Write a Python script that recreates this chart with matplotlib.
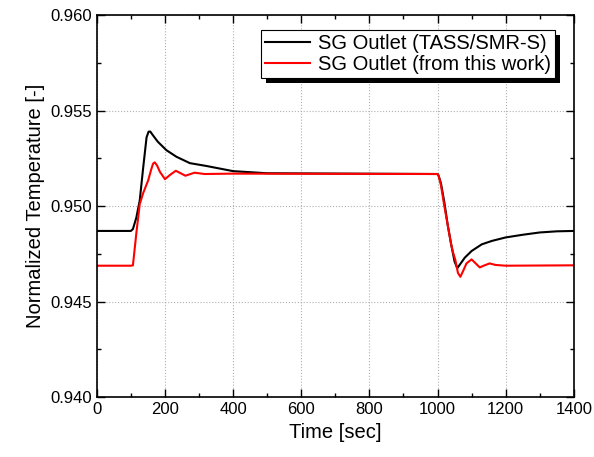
import numpy as np
import matplotlib
matplotlib.use("Agg")
import matplotlib.pyplot as plt
from matplotlib.ticker import MultipleLocator, FormatStrFormatter
from matplotlib.patches import Rectangle

plt.rcParams['font.family'] = ['Liberation Sans', 'DejaVu Sans']

# SG outlet temperature, TASS/SMR-S reference
t_tass = [0, 100, 106, 116, 126, 136, 146, 152, 157, 165, 179, 204, 234, 273, 322, 400, 500,
          1000, 1003, 1010, 1020, 1030, 1040, 1050, 1058, 1066, 1080, 1100, 1130, 1160,
          1200, 1250, 1300, 1350, 1400]
v_tass = [0.9487, 0.9487, 0.9488, 0.9494, 0.9503, 0.9520, 0.9536, 0.9539, 0.9539, 0.9537,
          0.95337, 0.95293, 0.95258, 0.95225, 0.9521, 0.95183, 0.95172,
          0.95168, 0.9516, 0.9512, 0.9502, 0.9490, 0.9480, 0.9471, 0.94675, 0.94695,
          0.9473, 0.94765, 0.9480, 0.94818, 0.94836, 0.9485, 0.94862, 0.94868, 0.9487]

# SG outlet temperature, this work
t_work = [0, 100, 106, 116, 126, 136, 151, 159, 165, 170, 177, 185, 200, 216, 232, 246, 260,
          287, 316, 400, 1000, 1003, 1010, 1020, 1030, 1040, 1045, 1052, 1060, 1067, 1075,
          1085, 1100, 1112, 1124, 1138, 1153, 1170, 1200, 1400]
v_work = [0.94688, 0.94688, 0.9469, 0.94859, 0.95010, 0.95068, 0.95136, 0.95188, 0.95222,
          0.95229, 0.95212, 0.9518, 0.95141, 0.95165, 0.95185, 0.95172, 0.95159,
          0.95175, 0.95168, 0.9517, 0.95168, 0.9516, 0.9511, 0.9500, 0.9490, 0.9480,
          0.94761, 0.9472, 0.9465, 0.9463, 0.9466, 0.9470, 0.94721, 0.9470, 0.94679,
          0.9469, 0.9470, 0.94692, 0.94688, 0.9469]

fig = plt.figure(figsize=(5.94, 4.57), dpi=100)
ax = fig.add_axes([0.163, 0.131, 0.803, 0.836])

ax.plot(t_tass, v_tass, color='black', lw=1.5, label='SG Outlet (TASS/SMR-S)')
ax.plot(t_work, v_work, color='red', lw=1.5, label='SG Outlet (from this work)')

ax.set_xlim(0, 1400)
ax.set_ylim(0.940, 0.960)
ax.xaxis.set_major_locator(MultipleLocator(200))
ax.xaxis.set_minor_locator(MultipleLocator(100))
ax.yaxis.set_major_locator(MultipleLocator(0.005))
ax.yaxis.set_minor_locator(MultipleLocator(0.0025))
ax.yaxis.set_major_formatter(FormatStrFormatter('%.3f'))

ax.tick_params(which='both', direction='in', top=True, right=True, labelsize=12)
ax.tick_params(which='major', length=6, width=1)
ax.tick_params(which='minor', length=3, width=1)
ax.grid(True, which='major', ls=':', color='#b0b0b0', lw=0.8)
for s in ax.spines.values():
    s.set_linewidth(1.2)

ax.set_xlabel('Time [sec]', fontsize=14.5)
ax.set_ylabel('Normalized Temperature [-]', fontsize=14.5)

leg = ax.legend(loc='upper right', fontsize=14.5, fancybox=False, framealpha=1,
                edgecolor='black', borderpad=0.2, handlelength=2.2,
                handletextpad=0.4, labelspacing=0.1, borderaxespad=0,
                bbox_to_anchor=(0.96, 0.96))
leg.get_frame().set_linewidth(0.8)

# solid offset shadow behind the legend box
fig.canvas.draw()
bb = leg.get_window_extent()
shadow = Rectangle((bb.x0 + 5, bb.y0 - 5), bb.width, bb.height, transform=None,
                   facecolor='black', edgecolor='none', zorder=4.9)
ax.add_artist(shadow)

fig.savefig('out.png', dpi=100)
